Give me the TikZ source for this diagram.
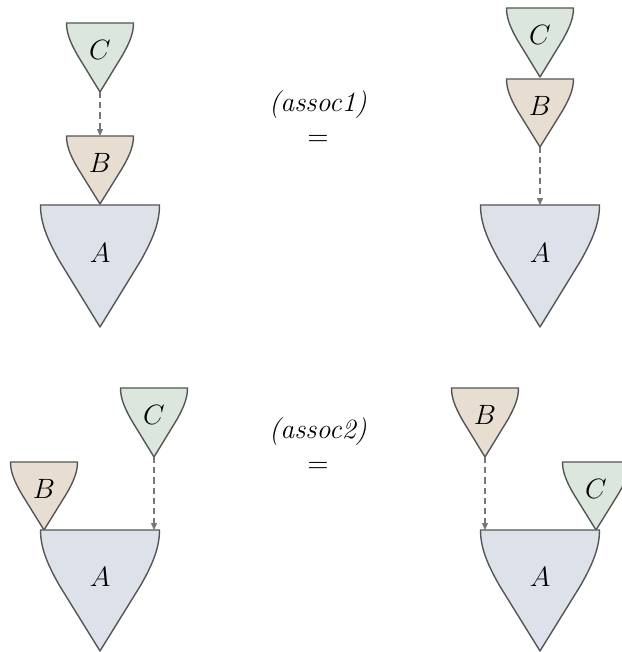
\documentclass[tikz,border=0pt]{standalone}
\usepackage{amsmath,amssymb}
\usepackage{xcolor}
\usepackage{tikz}
\usetikzlibrary{calc}
\usetikzlibrary{arrows.meta}

\definecolor{edgegray}{HTML}{555555}
\definecolor{fillA}{HTML}{DDE1E9}
\definecolor{fillB}{HTML}{E8DDD1}
\definecolor{fillC}{HTML}{DBE6DC}

\tikzset{
  coneedge/.style={draw=edgegray,line width=0.6pt,line join=round},
  dasharrow/.style={draw=edgegray!80,line width=0.5pt,dash pattern=on 2.6pt off 1.8pt,
    -{Triangle[length=3pt,width=2.6pt]}},
  eqlabel/.style={align=center,inner sep=0pt,font=\large}
}

% cone: name, top centre, width, height, fill, label
\newcommand{\drawcone}[6]{%
  \begin{scope}[shift={#2}]
    \draw[coneedge,fill=#5] (-#3/2,0) -- (#3/2,0)
      .. controls (#3/2,-0.14*#4) and (0.45*#3,-0.27*#4) .. (0.34*#3,-0.46*#4)
      -- (0,-#4) -- (-0.34*#3,-0.46*#4)
      .. controls (-0.45*#3,-0.27*#4) and (-#3/2,-0.14*#4) .. cycle;
    \coordinate (#1-top) at (0,0);
    \coordinate (#1-tip) at (0,-#4);
    \node[font=\large] (#1) at (0,-0.39*#4) {$#6$};
  \end{scope}}

\begin{document}
\begin{tikzpicture}[x=0.43pt,y=0.43pt]
\useasboundingbox (0,0) rectangle (621,652);

% assoc1, left side
\drawcone{C1}{(100,629)}{67}{69}{fillC}{C}
\drawcone{B1}{(100,516)}{67}{68}{fillB}{B}
\drawcone{A1}{(100,447)}{119}{122}{fillA}{A}
\draw[dasharrow] (C1-tip) -- (B1-top);

% assoc1, right side
\drawcone{C2}{(540,644)}{67}{69}{fillC}{C}
\drawcone{B2}{(540,573)}{67}{68}{fillB}{B}
\drawcone{A2}{(540,447)}{119}{122}{fillA}{A}
\draw[dasharrow] (B2-tip) -- (A2-top);

\node[eqlabel] (eq1) at (318,534) {\textit{(assoc1)}\\[1pt]$=$};

% assoc2, left side
\drawcone{C3}{(154,264)}{67}{69}{fillC}{C}
\drawcone{B3}{(44,190)}{67}{68}{fillB}{B}
\drawcone{A3}{(100,122)}{119}{121}{fillA}{A}
\draw[dasharrow] (C3-tip) -- (C3-tip |- A3-top);

% assoc2, right side
\drawcone{B4}{(485,264)}{67}{69}{fillB}{B}
\drawcone{C4}{(596,190)}{67}{68}{fillC}{C}
\drawcone{A4}{(540,122)}{119}{121}{fillA}{A}
\draw[dasharrow] (B4-tip) -- (B4-tip |- A4-top);

\node[eqlabel] (eq2) at (318,207) {\textit{(assoc2)}\\[1pt]$=$};
\end{tikzpicture}
\end{document}
